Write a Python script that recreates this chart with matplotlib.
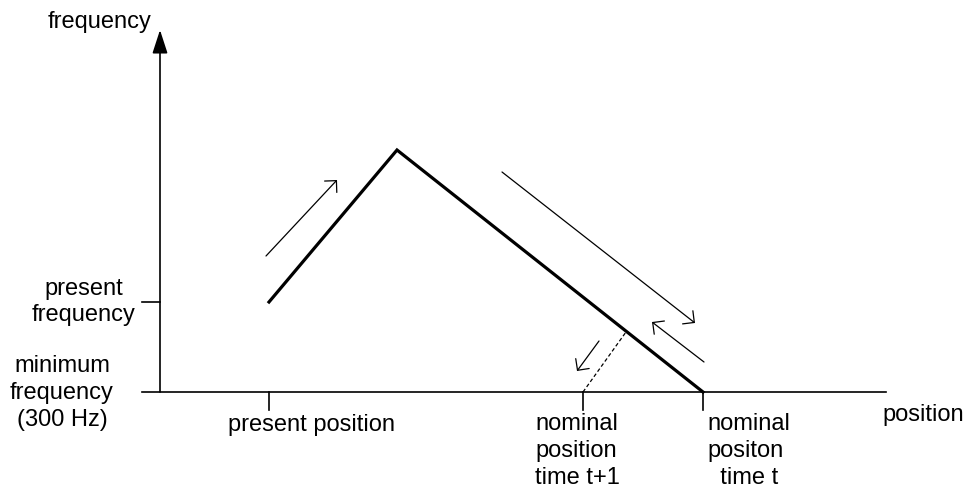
import matplotlib
matplotlib.use('Agg')
import matplotlib.pyplot as plt
from matplotlib.patches import FancyArrowPatch

plt.rcParams['font.family'] = ['Liberation Sans', 'DejaVu Sans']

# diagram coordinates (x to the right, y downward, same frame as the picture)
origin = (160, 392)
x_axis_end = 886
y_axis_top = 30

# frequency profile: present position -> peak -> nominal position time t
path_x = [269, 397, 703]
path_y = [302, 150, 392]

# ticks
xtick_pos = [269, 583, 703]
ytick_pos = [302]

# dashed line from nominal position t+1 up to the profile
dash_x = [583, 626]
dash_y = [392, 332]

# direction arrows (start, end)
arrows = [
    ((266, 256), (337, 180)),
    ((502, 172), (695, 323)),
    ((704, 362), (652, 322)),
    ((599, 341), (577, 371)),
]

fs = 17
ls = 1.28
fig = plt.figure(figsize=(9.64, 4.88), dpi=100)
ax = fig.add_axes([0, 0, 1, 1])
ax.set_xlim(0, 964)
ax.set_ylim(488, 0)
ax.axis('off')

# axes
ax.plot([142, x_axis_end], [origin[1], origin[1]], color='black', lw=1.2)
ax.add_patch(FancyArrowPatch((origin[0], origin[1]), (origin[0], y_axis_top),
                             arrowstyle='-|>,head_length=0.8,head_width=0.26',
                             mutation_scale=18, color='black', lw=1.2,
                             shrinkA=0, shrinkB=0))

for x in xtick_pos:
    ax.plot([x, x], [origin[1], origin[1] + 18], color='black', lw=1.2)
for y in ytick_pos:
    ax.plot([142, origin[0]], [y, y], color='black', lw=1.2)

# profile
ax.plot(path_x, path_y, color='black', lw=2.3, solid_joinstyle='miter')
ax.plot(dash_x, dash_y, color='black', lw=0.9, linestyle=(0, (3, 2)))

for (x0, y0), (x1, y1) in arrows:
    ax.add_patch(FancyArrowPatch((x0, y0), (x1, y1),
                                 arrowstyle='->,head_length=0.4,head_width=0.4',
                                 mutation_scale=15, color='black', lw=0.9,
                                 shrinkA=0, shrinkB=0))

# labels
ax.text(151, 22, 'frequency', fontsize=fs, ha='right', va='center')
ax.text(84, 302, 'present\nfrequency', fontsize=fs, ha='center', va='center',
        linespacing=ls)
ax.text(62, 393, 'minimum\nfrequency\n(300 Hz)', fontsize=fs, ha='center',
        va='center', linespacing=ls)
ax.text(311, 425, 'present position', fontsize=fs, ha='center', va='center')
ax.text(535, 451, 'nominal\nposition\ntime t+1', fontsize=fs, ha='left',
        va='center', linespacing=ls)
ax.text(707, 451, 'nominal\npositon\n  time t', fontsize=fs, ha='left',
        va='center', linespacing=ls)
ax.text(882, 415, 'position', fontsize=fs, ha='left', va='center')

fig.savefig('out.png', dpi=100, facecolor='white')
